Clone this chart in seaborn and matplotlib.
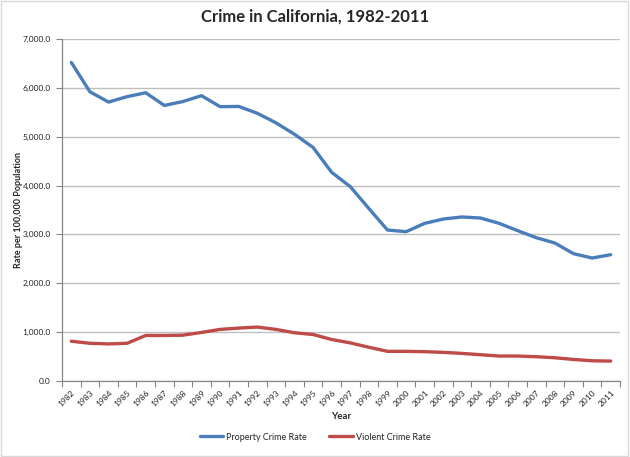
import pandas as pd
import numpy as np
import seaborn as sns
import matplotlib.pyplot as plt
from matplotlib.patches import Rectangle
from matplotlib.ticker import FuncFormatter, MultipleLocator

years = list(range(1982, 2012))
property_rate = [6520, 5920, 5710, 5820, 5900, 5640, 5720, 5840, 5615, 5620,
                 5480, 5285, 5050, 4780, 4270, 3977, 3530, 3090, 3056, 3227,
                 3315, 3357, 3336, 3227, 3077, 2933, 2824, 2606, 2517, 2585]
violent_rate = [814, 772, 759, 772, 932, 932, 938, 994, 1056, 1083,
                1104, 1056, 987, 952, 849, 780, 690, 607, 607, 600,
                586, 565, 538, 511, 511, 497, 476, 441, 414, 408]
series_names = ["Property Crime Rate", "Violent Crime Rate"]
colors = ["#4a7ebb", "#be4b48"]

df = pd.DataFrame({
    "Year": years * 2,
    "rate": property_rate + violent_rate,
    "series": [series_names[0]] * len(years) + [series_names[1]] * len(years),
})

sns.set_style("white")
plt.rcParams["font.family"] = ["Lato", "DejaVu Sans"]

fig = plt.figure(figsize=(6.3, 4.57), dpi=100)
ax = fig.add_axes([62 / 630, 1 - 381 / 457, 558 / 630, 342 / 457])

sns.lineplot(data=df, x="Year", y="rate", hue="series",
             palette=dict(zip(series_names, colors)), linewidth=2.4,
             ax=ax, legend=False)

ax.set_xlim(1981.5, 2011.5)
ax.set_ylim(0, 7000)
ax.yaxis.set_major_locator(MultipleLocator(1000))
ax.yaxis.set_major_formatter(FuncFormatter(lambda v, p: f"{v:,.1f}"))
ax.set_xticks(years)
ax.set_xticklabels([str(y) for y in years], rotation=45, ha="right",
                   rotation_mode="anchor")
ax.set_xticks(np.arange(1981.5, 2012, 1), minor=True)
ax.tick_params(axis="x", which="major", length=0, labelsize=6, pad=6,
               labelcolor="#222222")
ax.tick_params(axis="x", which="minor", length=4, width=0.8, color="#868686",
               direction="out", bottom=True)
ax.tick_params(axis="y", length=4, width=0.8, color="#868686", direction="out",
               left=True, labelsize=6, pad=4, labelcolor="#222222")

ax.grid(axis="y", color="#bfbfbf", linewidth=1)
ax.set_axisbelow(True)
sns.despine(ax=ax, top=True, right=True)
for s in ["left", "bottom"]:
    ax.spines[s].set_color("#868686")
    ax.spines[s].set_linewidth(0.9)

ax.set_xlabel("Year", fontsize=7, fontweight="bold")
ax.set_ylabel("Rate per 100,000 Population", fontsize=6.5, fontweight="bold")
ax.xaxis.set_label_coords(0.5, -0.09)
ax.yaxis.set_label_coords(-0.07, 0.5)

fig.suptitle("Crime in California, 1982-2011", fontsize=12,
             fontweight="bold", y=1 - 17 / 457, va="center")

handles = [plt.Line2D([], [], color=c, linewidth=2.4) for c in colors]
fig.legend(handles, series_names, loc="center", ncol=2,
           bbox_to_anchor=(0.5, 1 - 437 / 457), frameon=False, fontsize=6.5,
           handlelength=2.6, handletextpad=0.3, columnspacing=2.5)

fig.patches.append(Rectangle((0.002, 0.003), 0.995, 0.994,
                             transform=fig.transFigure, fill=False,
                             edgecolor="#d9d9d9", linewidth=1))

plt.savefig("out.png", dpi=100)
